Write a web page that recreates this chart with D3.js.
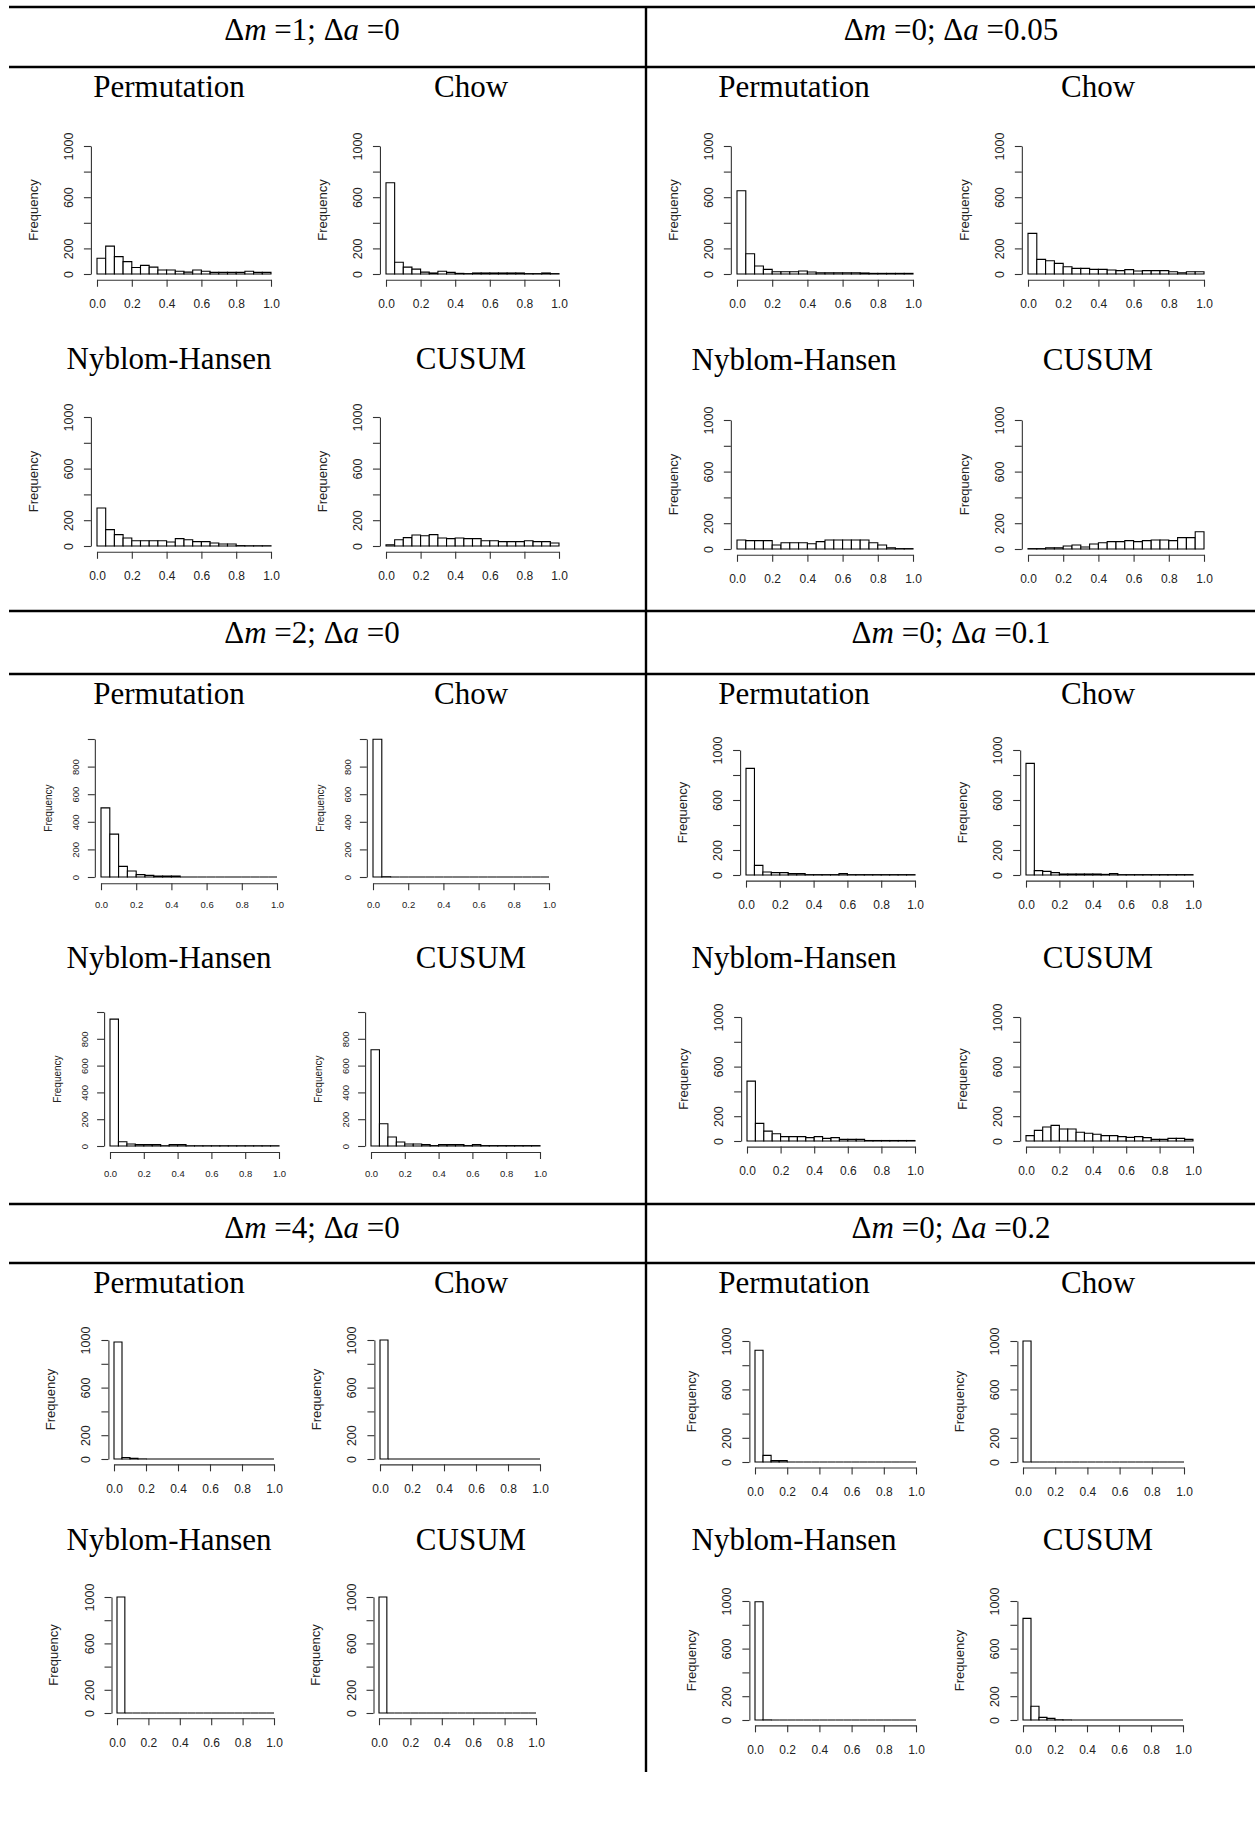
<!DOCTYPE html>
<html>
<head>
<meta charset="utf-8">
<script src="https://cdn.jsdelivr.net/npm/d3@7"></script>
<style>
  body { margin: 0; background: #fff; }
</style>
</head>
<body>
<svg id="chart"></svg>
<script>
// Histogram bins (p-values, width 0.05)
const binEdges = [0, 0.05, 0.1, 0.15, 0.2, 0.25, 0.3, 0.35, 0.4, 0.45, 0.5,
                  0.55, 0.6, 0.65, 0.7, 0.75, 0.8, 0.85, 0.9, 0.95, 1.0];

// Tick values / labels
const xTicks = [0, 0.2, 0.4, 0.6, 0.8, 1.0];
const yTicks = [0, 200, 400, 600, 800, 1000];
const yLabelsSparse = [0, 200, 600, 1000];
const yLabelsDense = [0, 200, 400, 600, 800];

// Column headers: [delta m, delta a]
const headersLeft = [["1", "0"], ["2", "0"], ["4", "0"]];
const headersRight = [["0", "0.05"], ["0", "0.1"], ["0", "0.2"]];

const methods = ["Permutation", "Chow", "Nyblom-Hansen", "CUSUM"];

// Frequencies, one value per bin
// dm = 1, da = 0
const permDm1  = [123, 218, 136, 97, 51, 67, 54, 31, 31, 21, 15, 31, 21, 13, 13, 13, 13, 21, 13, 13];
const chowDm1  = [713, 92, 54, 38, 15, 8, 21, 13, 5, 3, 8, 8, 8, 8, 8, 8, 3, 3, 8, 3];
const nhDm1    = [295, 127, 88, 62, 41, 41, 41, 41, 31, 57, 49, 34, 34, 23, 16, 16, 3, 2, 2, 2];
const cusumDm1 = [10, 49, 65, 85, 80, 88, 62, 57, 62, 57, 57, 41, 41, 34, 34, 34, 41, 34, 34, 23];
// dm = 0, da = 0.05
const permDa05  = [650, 158, 62, 36, 18, 18, 18, 23, 16, 10, 10, 10, 10, 10, 8, 5, 5, 5, 5, 5];
const chowDa05  = [317, 114, 104, 83, 57, 44, 44, 36, 36, 31, 26, 34, 23, 26, 26, 26, 18, 10, 18, 18];
const nhDa05    = [70, 65, 65, 65, 31, 49, 49, 49, 41, 57, 70, 70, 70, 70, 70, 49, 31, 10, 3, 3];
const cusumDa05 = [3, 3, 10, 10, 23, 31, 16, 39, 49, 57, 57, 65, 57, 65, 70, 70, 65, 88, 88, 134];
// dm = 2, da = 0
const permDm2  = [501, 311, 77, 43, 17, 12, 7, 7, 7, 0, 0, 0, 0, 0, 0, 0, 0, 0, 0, 0];
const chowDm2  = [998, 2, 0, 0, 0, 0, 0, 0, 0, 0, 0, 0, 0, 0, 0, 0, 0, 0, 0, 0];
const nhDm2    = [947, 32, 15, 10, 10, 10, 2, 10, 10, 2, 2, 2, 2, 2, 2, 2, 2, 2, 2, 2];
const cusumDm2 = [718, 166, 67, 30, 15, 15, 10, 3, 10, 10, 10, 3, 10, 3, 3, 3, 3, 3, 3, 3];
// dm = 0, da = 0.1
const permDa1  = [853, 77, 24, 19, 19, 11, 11, 3, 3, 3, 3, 11, 3, 3, 3, 3, 3, 3, 3, 3];
const chowDa1  = [893, 35, 29, 19, 8, 8, 8, 8, 8, 5, 11, 3, 3, 3, 3, 3, 3, 3, 3, 3];
const nhDa1    = [483, 142, 80, 59, 35, 35, 35, 27, 35, 21, 27, 13, 13, 13, 4, 4, 4, 4, 4, 4];
const cusumDa1 = [43, 86, 113, 126, 97, 97, 70, 62, 54, 43, 43, 35, 29, 35, 27, 13, 13, 21, 21, 13];
// dm = 4, da = 0
const permDm4  = [983, 12, 6, 1, 0, 0, 0, 0, 0, 0, 0, 0, 0, 0, 0, 0, 0, 0, 0, 0];
const chowDm4  = [1000, 0, 0, 0, 0, 0, 0, 0, 0, 0, 0, 0, 0, 0, 0, 0, 0, 0, 0, 0];
const nhDm4    = [1000, 0, 0, 0, 0, 0, 0, 0, 0, 0, 0, 0, 0, 0, 0, 0, 0, 0, 0, 0];
const cusumDm4 = [1000, 0, 0, 0, 0, 0, 0, 0, 0, 0, 0, 0, 0, 0, 0, 0, 0, 0, 0, 0];
// dm = 0, da = 0.2
const permDa2  = [923, 55, 11, 11, 0, 0, 0, 0, 0, 0, 0, 0, 0, 0, 0, 0, 0, 0, 0, 0];
const chowDa2  = [1000, 0, 0, 0, 0, 0, 0, 0, 0, 0, 0, 0, 0, 0, 0, 0, 0, 0, 0, 0];
const nhDa2    = [994, 1, 0, 0, 0, 0, 0, 0, 0, 0, 0, 0, 0, 0, 0, 0, 0, 0, 0, 0];
const cusumDa2 = [854, 115, 22, 14, 2, 1, 0, 0, 0, 0, 0, 0, 0, 0, 0, 0, 0, 0, 0, 0];

// Fonts
const serif = "'Liberation Serif', 'Times New Roman', serif";
const sans = "'Liberation Sans', Arial, Helvetica, sans-serif";

// SVG
const W = 1255, H = 1827;
const svg = d3.select("#chart").attr("width", W).attr("height", H);

// Table frame
const hLines = [7, 67, 611, 674, 1204, 1263];
const divX = 646;
svg.selectAll(".hline").data(hLines).join("line")
   .attr("x1", 9).attr("x2", W).attr("y1", d => d).attr("y2", d => d)
   .attr("stroke", "#000").attr("stroke-width", 2.4);
svg.append("line").attr("x1", divX).attr("x2", divX).attr("y1", 7).attr("y2", 1772)
   .attr("stroke", "#000").attr("stroke-width", 2.4);

// Header cells
const headerBaselines = [40, 643, 1238];
function drawHeader(cx, cy, h) {
    const t = svg.append("text").attr("x", cx).attr("y", cy).attr("text-anchor", "middle")
        .style("font-family", serif).style("font-size", "31px").attr("fill", "#000");
    t.append("tspan").text("\u0394");
    t.append("tspan").style("font-style", "italic").text("m");
    t.append("tspan").text(" =" + h[0] + "; \u0394");
    t.append("tspan").style("font-style", "italic").text("a");
    t.append("tspan").text(" =" + h[1]);
}
headersLeft.forEach((h, i) => drawHeader(312, headerBaselines[i], h));
headersRight.forEach((h, i) => drawHeader(951, headerBaselines[i], h));

// Panel frames (pixel boxes of each small histogram)
const panels = [
    // band 1, left
    { v: permDm1,  m: 0, tx: 169,  ty: 97,  x0: 97,  x1: 271, y0: 274,  yTop: 146 },
    { v: chowDm1,  m: 1, tx: 471,  ty: 97,  x0: 386, x1: 559, y0: 274,  yTop: 146 },
    { v: nhDm1,    m: 2, tx: 169,  ty: 369, x0: 97,  x1: 271, y0: 546,  yTop: 417 },
    { v: cusumDm1, m: 3, tx: 471,  ty: 369, x0: 386, x1: 559, y0: 546,  yTop: 417 },
    // band 1, right
    { v: permDa05,  m: 0, tx: 794,  ty: 97,  x0: 737,  x1: 913,  y0: 274, yTop: 146 },
    { v: chowDa05,  m: 1, tx: 1098, ty: 97,  x0: 1028, x1: 1204, y0: 274, yTop: 146 },
    { v: nhDa05,    m: 2, tx: 794,  ty: 370, x0: 737,  x1: 913,  y0: 549, yTop: 420 },
    { v: cusumDa05, m: 3, tx: 1098, ty: 370, x0: 1028, x1: 1204, y0: 549, yTop: 420 },
    // band 2, left (smaller R figures)
    { v: permDm2,  m: 0, tx: 169, ty: 704, x0: 101, x1: 277, y0: 877,  yTop: 739,  small: true },
    { v: chowDm2,  m: 1, tx: 471, ty: 704, x0: 373, x1: 549, y0: 877,  yTop: 739,  small: true },
    { v: nhDm2,    m: 2, tx: 169, ty: 968, x0: 110, x1: 279, y0: 1146, yTop: 1012, small: true },
    { v: cusumDm2, m: 3, tx: 471, ty: 968, x0: 371, x1: 540, y0: 1146, yTop: 1012, small: true },
    // band 2, right
    { v: permDa1,  m: 0, tx: 794,  ty: 704, x0: 746,  x1: 915,  y0: 875,  yTop: 750 },
    { v: chowDa1,  m: 1, tx: 1098, ty: 704, x0: 1026, x1: 1193, y0: 875,  yTop: 750 },
    { v: nhDa1,    m: 2, tx: 794,  ty: 968, x0: 747,  x1: 915,  y0: 1141, yTop: 1017 },
    { v: cusumDa1, m: 3, tx: 1098, ty: 968, x0: 1026, x1: 1193, y0: 1141, yTop: 1017 },
    // band 3, left
    { v: permDm4,  m: 0, tx: 169, ty: 1293, x0: 114, x1: 274, y0: 1459, yTop: 1340 },
    { v: chowDm4,  m: 1, tx: 471, ty: 1293, x0: 380, x1: 540, y0: 1459, yTop: 1340 },
    { v: nhDm4,    m: 2, tx: 169, ty: 1550, x0: 117, x1: 274, y0: 1713, yTop: 1597 },
    { v: cusumDm4, m: 3, tx: 471, ty: 1550, x0: 379, x1: 536, y0: 1713, yTop: 1597 },
    // band 3, right
    { v: permDa2,  m: 0, tx: 794,  ty: 1293, x0: 755,  x1: 916,  y0: 1462, yTop: 1341 },
    { v: chowDa2,  m: 1, tx: 1098, ty: 1293, x0: 1023, x1: 1184, y0: 1462, yTop: 1341 },
    { v: nhDa2,    m: 2, tx: 794,  ty: 1550, x0: 755,  x1: 916,  y0: 1720, yTop: 1601 },
    { v: cusumDa2, m: 3, tx: 1098, ty: 1550, x0: 1023, x1: 1183, y0: 1720, yTop: 1601 }
];

function drawPanel(p) {
    const x = d3.scaleLinear().domain([0, 1]).range([p.x0, p.x1]);
    const y = d3.scaleLinear().domain([0, 1000]).range([p.y0, p.yTop]);
    const fx = p.small ? 9.5 : 12;    // x tick label size
    const fy = p.small ? 9.5 : 12.5;  // y tick label size
    const fl = p.small ? 10 : 13;     // axis title size
    const g = svg.append("g");

    // Title
    g.append("text").attr("x", p.tx).attr("y", p.ty).attr("text-anchor", "middle")
        .style("font-family", serif).style("font-size", "31px").attr("fill", "#000")
        .text(methods[p.m]);

    // Bars (paths so that empty bins still show as a line on the baseline)
    g.selectAll(".bar").data(p.v).join("path")
        .attr("class", "bar")
        .attr("d", (v, i) => {
            const a = x(binEdges[i]), b = x(binEdges[i + 1]);
            return `M${a},${y(0)}V${y(v)}H${b}V${y(0)}Z`;
        })
        .attr("fill", "#fff").attr("stroke", "#000").attr("stroke-width", 1.1);

    // X axis, offset below like base R
    const xOff = (p.y0 - p.yTop) * 0.045;
    const xa = g.append("g").attr("transform", `translate(0,${p.y0 + xOff})`)
        .call(d3.axisBottom(x).tickValues(xTicks).tickFormat(d3.format(".1f"))
              .tickSize(7).tickSizeOuter(0).tickPadding(p.small ? 11 : 13));
    xa.attr("font-family", sans).attr("font-size", fx);
    xa.selectAll("path, line").attr("stroke", "#333").attr("stroke-width", 1.1);
    xa.selectAll("text").attr("fill", "#222");

    // Y axis with rotated labels
    const yOff = (p.x1 - p.x0) * 0.035;
    const labels = p.small ? yLabelsDense : yLabelsSparse;
    const ya = g.append("g").attr("transform", `translate(${p.x0 - yOff},0)`)
        .call(d3.axisLeft(y).tickValues(yTicks).tickSize(7).tickSizeOuter(0)
              .tickFormat(d => labels.includes(d) ? d : ""));
    ya.attr("font-family", sans).attr("font-size", fy);
    ya.selectAll("path, line").attr("stroke", "#333").attr("stroke-width", 1.1);
    ya.selectAll("text").attr("x", null).attr("dy", null)
        .attr("text-anchor", "middle").attr("fill", "#222")
        .attr("transform", `translate(${p.small ? -16 : -18},0) rotate(-90)`);

    // "Frequency"
    g.append("text")
        .attr("transform", `translate(${p.x0 - (p.small ? 49 : 59)},${(p.y0 + p.yTop) / 2}) rotate(-90)`)
        .attr("text-anchor", "middle")
        .style("font-family", sans).style("font-size", fl + "px").attr("fill", "#222")
        .text("Frequency");
}

panels.forEach(drawPanel);
</script>
</body>
</html>
